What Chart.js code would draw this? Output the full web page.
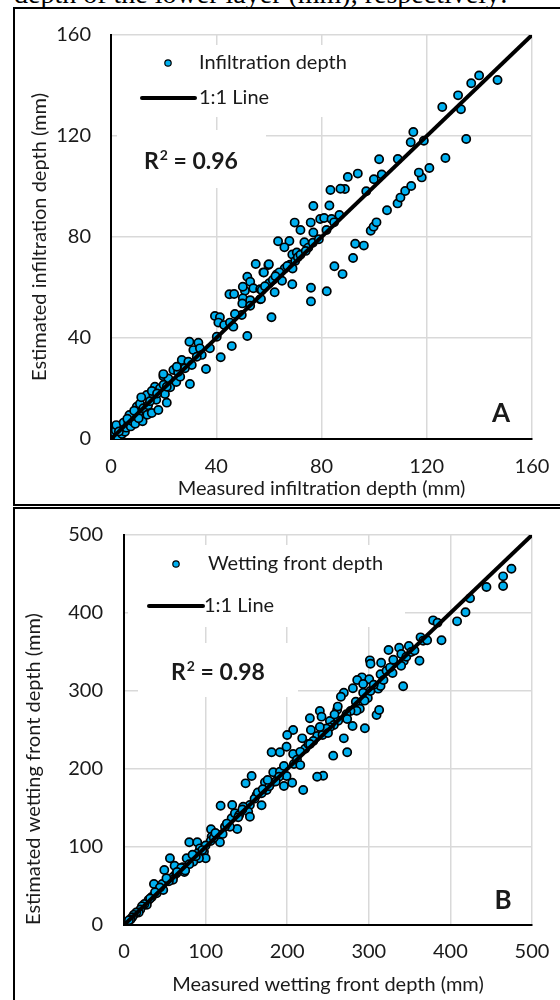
<!DOCTYPE html>
<html>
<head>
<meta charset="utf-8">
<script src="https://cdn.jsdelivr.net/npm/chart.js@4"></script>
<style>
  body { margin: 0; background: #fff; width: 560px; height: 1000px; overflow: hidden; position: relative; }
  .caption { position: absolute; left: 14px; top: -20px; font: 28px/1 "Liberation Serif", serif; color: #000; white-space: nowrap; }
  .panel { position: absolute; left: 13px; width: 600px; border: 2px solid #000; box-sizing: border-box; }
  #panelA { top: 7px; height: 499px; }
  #panelB { top: 507px; height: 500px; }
  canvas { position: absolute; left: 15px; }
  #chartA { top: 10px; }
  #chartB { top: 510px; }
</style>
</head>
<body>
<div class="caption">depth of the lower layer (mm), respectively:</div>
<div class="panel" id="panelA"></div>
<div class="panel" id="panelB"></div>
<canvas id="chartA" width="545" height="494"></canvas>
<canvas id="chartB" width="545" height="490"></canvas>
<script>
// Panel A: infiltration depth (mm)
const infilMeasured = [
  1.5, 1.8, 2.5, 3.4, 2.0, 4.2, 5.3, 4.8, 6.6, 5.8, 7.5, 8.1, 8.5, 7.0, 9.8, 9.2, 11.0, 10.4, 12.0, 12.3,
  13.8, 13.6, 14.1, 15.5, 16.1, 16.7, 18.0, 18.6, 17.2, 19.9, 20.5, 21.2, 21.8, 22.5, 23.7, 24.8, 26.3, 11.5, 14.8, 15.5,
  8.8, 6.2, 3.0, 10.5, 17.5, 20.0, 25.5, 27.5, 29.8, 33.2, 31.3, 33.8, 37.6, 34.5, 32.6, 26.9, 29.4, 30.7, 28.1, 25.0,
  36.1, 30.0, 19.9, 21.2, 39.5, 41.4, 40.8, 43.0, 45.2, 46.5, 40.2, 51.8, 45.9, 41.7, 45.0, 46.8, 50.9, 50.1, 52.9, 49.9,
  52.9, 56.7, 49.7, 47.1, 55.0, 59.8, 57.9, 51.8, 52.9, 50.1, 54.1, 56.7, 57.3, 57.0, 60.0, 58.1, 63.0, 65.0, 60.1, 62.2,
  61.0, 68.9, 76.0, 76.0, 82.0, 88.0, 84.9, 92.0, 96.1, 92.8, 63.5, 67.8, 65.9, 73.5, 75.0, 68.9, 70.6, 76.7, 66.0, 68.0,
  70.0, 71.0, 72.0, 74.0, 64.0, 67.0, 69.0, 58.5, 61.5, 62.5, 79.0, 81.9, 76.9, 72.0, 69.8, 75.9, 79.5, 81.0, 83.8, 84.8,
  86.8, 76.9, 83.0, 83.4, 88.9, 87.2, 97.0, 90.0, 93.8, 99.9, 102.9, 98.7, 99.8, 100.9, 104.9, 108.9, 110.0, 111.8, 114.1, 118.1,
  117.0, 121.0, 101.9, 109.0, 118.9, 113.9, 114.9, 127.1, 135.0, 125.9, 133.0, 131.9, 136.9, 139.9, 146.9
];
const infilEstimated = [
  2.2, 3.5, 1.0, 4.9, 5.5, 2.0, 2.9, 6.5, 6.2, 4.5, 5.0, 7.0, 8.8, 9.5, 12.8, 6.0, 14.0, 10.3, 7.0, 12.2,
  9.6, 17.4, 13.4, 10.3, 17.4, 20.7, 11.5, 20.0, 15.5, 24.9, 17.8, 14.4, 24.0, 20.5, 27.3, 22.6, 24.7, 16.5, 15.0, 19.0,
  11.2, 8.0, 3.0, 8.2, 18.0, 21.5, 26.5, 29.5, 38.5, 38.1, 35.2, 35.9, 35.9, 33.3, 32.6, 31.3, 30.6, 29.3, 28.0, 28.6,
  27.7, 21.8, 25.7, 20.7, 48.7, 48.2, 46.1, 45.1, 46.1, 44.5, 40.5, 40.8, 36.8, 32.4, 57.3, 57.4, 58.7, 55.7, 55.0, 53.7,
  52.8, 55.3, 49.1, 49.5, 69.3, 68.9, 66.0, 64.3, 62.3, 60.3, 59.7, 59.3, 59.0, 55.4, 69.2, 65.9, 65.2, 62.7, 61.7, 58.1,
  48.2, 61.3, 59.9, 54.5, 58.5, 65.3, 68.4, 71.7, 76.6, 77.3, 78.3, 78.4, 75.9, 77.9, 75.8, 73.1, 73.9, 77.7, 67.5, 69.0,
  70.5, 72.0, 73.0, 74.5, 66.0, 68.5, 67.5, 60.5, 63.0, 64.5, 79.1, 82.8, 81.8, 82.8, 85.7, 85.7, 87.1, 87.5, 87.1, 85.8,
  88.7, 92.3, 92.5, 98.6, 99.0, 99.1, 98.1, 103.8, 105.1, 102.9, 104.8, 82.5, 84.1, 85.8, 90.6, 93.3, 95.6, 98.2, 100.2, 103.6,
  105.5, 107.3, 110.8, 110.9, 118.1, 117.5, 121.6, 111.3, 118.8, 131.5, 130.6, 136.1, 140.9, 144.0, 142.2
];
const infilTicks = [0, 40, 80, 120, 160];
const infilOneToOne = [0, 160];

// Panel B: wetting front depth (mm)
const wetMeasured = [
  474.8, 464.6, 464.6, 444.2, 424.1, 418.5, 408.2, 378.8, 384.2, 389.1, 363.4, 366.6, 371.5, 349.1, 337.2, 324.2, 339.8, 342.9, 339.6, 362.1,
  342.1, 301.3, 302.1, 315.1, 314.4, 321.7, 329.1, 291.5, 285.8, 300.5, 293.1, 311.5, 314.4, 280.5, 269.4, 265.8, 293.1, 298.8, 294.8, 284.1,
  289.0, 285.0, 277.6, 272.7, 261.2, 262.5, 273.5, 240.0, 242.1, 227.8, 252.3, 257.2, 252.3, 229.0, 207.3, 200.0, 218.4, 236.7, 243.3, 280.1,
  295.2, 309.5, 312.7, 269.4, 273.5, 256.4, 244.1, 236.7, 219.6, 206.1, 196.0, 199.2, 182.9, 191.1, 172.7, 180.9, 174.8, 168.6, 168.6, 180.9,
  191.1, 199.2, 207.3, 208.2, 156.4, 149.0, 162.5, 154.3, 146.1, 132.6, 118.4, 131.9, 135.9, 141.2, 152.2, 154.3, 138.8, 129.8, 123.7, 106.6,
  114.8, 107.4, 120.9, 117.6, 106.2, 80.0, 89.8, 93.1, 98.0, 90.3, 100.1, 91.9, 84.9, 76.8, 56.3, 49.4, 60.4, 36.7, 46.9, 48.1,
  40.0, 212, 216, 222, 226, 232, 248, 250, 190, 186, 178, 160, 164, 145, 126, 110, 100, 88, 80, 72,
  68, 64, 60, 55, 52, 44, 34, 30, 28, 25, 22, 20, 18, 15, 12, 10, 8, 6, 258, 262,
  302, 306, 318, 326, 330, 346, 352, 356, 240, 228, 216, 196, 176, 170, 140, 112, 96, 84, 74, 66,
  62, 70, 75, 65, 38, 32
];
const wetEstimated = [
  456.8, 447.0, 434.6, 433.3, 418.8, 400.9, 389.3, 390.6, 387.6, 365.0, 368.8, 364.5, 365.0, 357.7, 355.5, 352.6, 347.4, 338.5, 332.4, 338.8,
  306.0, 339.3, 335.0, 336.3, 321.4, 326.0, 323.1, 317.5, 314.1, 315.0, 309.0, 303.0, 306.4, 303.5, 297.8, 292.7, 297.8, 291.0, 287.6, 286.3,
  277.3, 274.7, 274.4, 270.1, 276.0, 261.9, 264.1, 274.4, 267.1, 265.0, 261.5, 256.4, 253.4, 250.0, 250.0, 243.6, 239.3, 242.3, 243.6, 255.1,
  252.2, 269.2, 275.6, 239.3, 221.4, 217.1, 191.4, 190.1, 173.1, 182.4, 178.2, 191.0, 195.8, 196.6, 182.9, 182.4, 173.1, 168.8, 153.5, 221.4,
  221.4, 228.6, 219.2, 206.4, 191.0, 181.6, 166.7, 153.8, 151.7, 153.8, 152.9, 136.8, 143.2, 141.0, 145.3, 138.8, 123.1, 126.0, 126.0, 122.7,
  115.4, 113.2, 116.7, 106.0, 107.7, 106.0, 106.0, 98.3, 94.0, 91.9, 85.5, 85.5, 81.2, 85.5, 85.5, 70.5, 61.9, 52.6, 52.6, 44.9,
  40.6, 212, 205, 226, 232, 236, 252, 246, 190, 184, 178, 162, 170, 148, 130, 112, 102, 88, 78, 74,
  70, 66, 58, 56, 60, 48, 36, 32, 26, 27, 24, 20, 16, 16, 13, 10, 7, 6, 270, 280,
  300, 308, 314, 330, 340, 344, 350, 352, 254, 232, 222, 204, 186, 174, 138, 118, 96, 90, 68, 72,
  76, 73, 70, 68, 42, 34
];
const wetTicks = [0, 100, 200, 300, 400, 500];
const wetOneToOne = [0, 500];

const textColor = '#1a1a1a';
const pointFill = '#00B0F0';

// white boxes behind legend and R² text, legend and panel letter
const decorPlugin = {
  id: 'decor',
  beforeDatasetsDraw(chart, args, o) {
    const { ctx, chartArea: a } = chart;
    ctx.save();
    ctx.fillStyle = '#fff';
    o.boxes.forEach(b => ctx.fillRect(a.left + b[0], a.top + b[1], b[2] - b[0], b[3] - b[1]));
    ctx.restore();
  },
  afterDatasetsDraw(chart, args, o) {
    const { ctx, chartArea: a } = chart;
    const pts = chart.data.datasets[0];
    const line = chart.data.datasets[1];
    ctx.save();
    ctx.font = '20px Lato';
    ctx.fillStyle = textColor;
    ctx.textBaseline = 'middle';
    ctx.textAlign = 'left';

    // legend: scatter entry
    ctx.beginPath();
    ctx.arc(a.left + o.marker[0], a.top + o.marker[1], 3.2, 0, Math.PI * 2);
    ctx.fillStyle = pts.backgroundColor;
    ctx.fill();
    ctx.lineWidth = 1.2;
    ctx.strokeStyle = pts.borderColor;
    ctx.stroke();
    ctx.fillStyle = textColor;
    ctx.fillText(pts.label, a.left + o.text1[0], a.top + o.text1[1]);

    // legend: line entry
    ctx.beginPath();
    ctx.moveTo(a.left + o.line[0], a.top + o.line[2]);
    ctx.lineTo(a.left + o.line[1], a.top + o.line[2]);
    ctx.lineWidth = line.borderWidth;
    ctx.strokeStyle = line.borderColor;
    ctx.lineCap = 'round';
    ctx.stroke();
    ctx.fillText(line.label, a.left + o.text2[0], a.top + o.text2[1]);

    // R² text
    ctx.font = 'bold 23px Lato';
    const rx = a.left + o.r2[0], ry = a.top + o.r2[1];
    ctx.fillText('R', rx, ry);
    const rw = ctx.measureText('R').width;
    ctx.font = 'bold 14px Lato';
    ctx.fillText('2', rx + rw + 1, ry - 7);
    const sw = ctx.measureText('2').width;
    ctx.font = 'bold 23px Lato';
    ctx.fillText(' = ' + o.r2Value, rx + rw + sw + 1, ry);

    // panel letter
    ctx.font = 'bold 26px Lato';
    ctx.textAlign = 'center';
    ctx.fillText(o.letter, a.right + o.letterPos[0], a.bottom + o.letterPos[1]);
    ctx.restore();
  }
};

function makeChart(id, cfg) {
  const tickFont = { family: 'Lato', size: 20 };
  return new Chart(document.getElementById(id), {
    type: 'scatter',
    data: {
      datasets: [
        {
          label: cfg.label,
          data: cfg.measured.map((v, i) => ({ x: v, y: cfg.estimated[i] })),
          backgroundColor: pointFill,
          borderColor: '#000',
          borderWidth: 1.7,
          pointRadius: 4.1,
          pointHoverRadius: 4.1,
          order: 2
        },
        {
          type: 'line',
          label: '1:1 Line',
          data: cfg.oneToOne.map(v => ({ x: v, y: v })),
          borderColor: '#000',
          borderWidth: 4,
          pointRadius: 0,
          fill: false,
          order: 1
        }
      ]
    },
    options: {
      responsive: false,
      animation: false,
      layout: { padding: { top: 25, right: 28, left: 0, bottom: 0 } },
      plugins: {
        legend: { display: false },
        tooltip: { enabled: false },
        decor: cfg.decor
      },
      scales: {
        x: {
          type: 'linear',
          min: cfg.ticks[0],
          max: cfg.ticks[cfg.ticks.length - 1],
          afterBuildTicks: s => { s.ticks = cfg.ticks.map(v => ({ value: v })); },
          afterFit: s => { s.height = cfg.xHeight; s.paddingLeft = 0; s.paddingRight = 0; },
          grid: { color: '#d9d9d9', lineWidth: 1.5, drawTicks: false },
          border: { color: '#000', width: 2 },
          ticks: { color: textColor, font: tickFont, padding: cfg.xTickPad, maxRotation: 0 },
          title: { display: true, text: cfg.xTitle, color: textColor, font: tickFont, padding: { top: 0, bottom: 3 } }
        },
        y: {
          type: 'linear',
          min: cfg.ticks[0],
          max: cfg.ticks[cfg.ticks.length - 1],
          afterBuildTicks: s => { s.ticks = cfg.ticks.map(v => ({ value: v })); },
          afterFit: s => { s.width = cfg.yWidth; s.paddingTop = 0; s.paddingBottom = 0; },
          grid: { color: '#d9d9d9', lineWidth: 1.5, drawTicks: false },
          border: { color: '#000', width: 2 },
          ticks: { color: textColor, font: tickFont, padding: cfg.yTickPad },
          title: { display: true, text: cfg.yTitle, align: cfg.yTitleAlign, color: textColor, font: tickFont, padding: { top: cfg.yTitlePad, bottom: 0 } }
        }
      }
    },
    plugins: [decorPlugin]
  });
}

makeChart('chartA', {
  label: 'Infiltration depth',
  measured: infilMeasured,
  estimated: infilEstimated,
  oneToOne: infilOneToOne,
  ticks: infilTicks,
  xTitle: 'Measured infiltration depth (mm)',
  yTitle: 'Estimated infiltration depth (mm)',
  yTitleAlign: 'center',
  xHeight: 65, yWidth: 96, xTickPad: 16, yTickPad: 20, yTitlePad: 13,
  decor: {
    boxes: [[6, 10, 219, 82], [6, 95, 155, 153]],
    marker: [57, 28], text1: [88, 28],
    line: [31, 84, 63], text2: [88, 63],
    r2: [33, 127], r2Value: '0.96',
    letter: 'A', letterPos: [-31, -25]
  }
});

makeChart('chartB', {
  label: 'Wetting front depth',
  measured: wetMeasured,
  estimated: wetEstimated,
  oneToOne: wetOneToOne,
  ticks: wetTicks,
  xTitle: 'Measured wetting front depth (mm)',
  yTitle: 'Estimated wetting front depth (mm)',
  yTitleAlign: 'start',
  xHeight: 75, yWidth: 109, xTickPad: 15, yTickPad: 21, yTitlePad: 7,
  decor: {
    boxes: [[4, 10, 281, 92], [14, 108, 174, 162]],
    marker: [52, 29], text1: [84, 29],
    line: [25, 79, 71], text2: [80, 71],
    r2: [47, 138], r2Value: '0.98',
    letter: 'B', letterPos: [-29, -24]
  }
});
</script>
</body>
</html>
